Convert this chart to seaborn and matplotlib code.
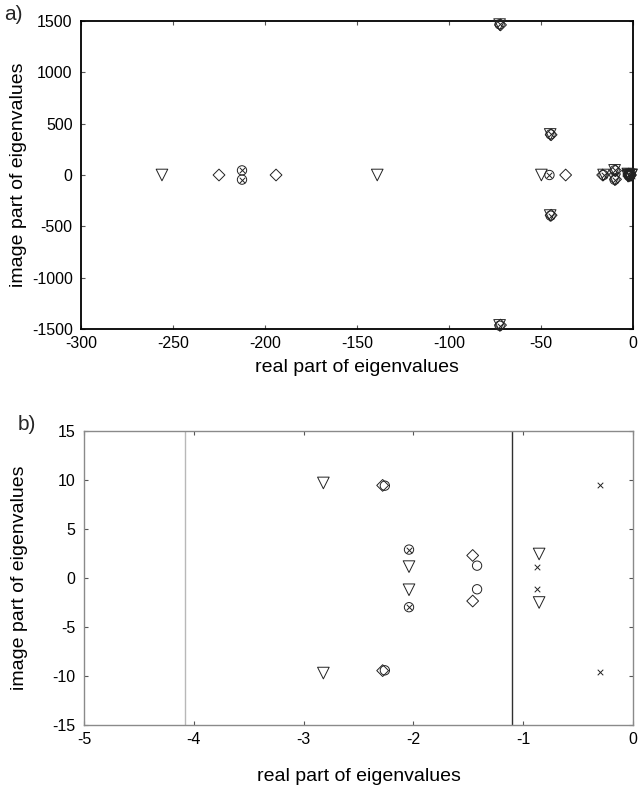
import matplotlib
matplotlib.use("Agg")
import matplotlib.pyplot as plt
import seaborn as sns
import pandas as pd

# ---- data (real, imaginary parts of eigenvalues) ----
tri_re = [-256, -139, -49.8, -72.5, -72.5, -45, -45, -16, -10, -10,
          -2.82, -2.82, -2.04, -2.04, -0.855, -0.855]
tri_im = [0, 0, 0, 1465, -1465, 395, -395, 0, 45, -45,
          9.7, -9.7, 1.16, -1.2, 2.45, -2.5]

dia_re = [-225, -194, -36.6, -72, -72, -44.5, -44.5, -16.5, -9.5, -9.5,
          -2.28, -2.28, -1.46, -1.46]
dia_im = [0, 0, 0, 1462, -1462, 392, -392, 0, 42, -42,
          9.45, -9.45, 2.3, -2.35]

cir_re = [-212.5, -212.5, -45.4, -72.5, -72.5, -44.8, -44.8, -16, -10, -10,
          -2.26, -2.26, -2.04, -2.04, -1.42, -1.42]
cir_im = [45, -45, 0, 1468, -1468, 396, -396, 0, 46, -46,
          9.42, -9.42, 2.9, -2.98, 1.26, -1.15]

crs_re = [-212.5, -212.5, -45.4, -72.5, -72.5, -44.8, -44.8, -16, -10, -10,
          -2.04, -2.04, -0.875, -0.875, -0.297, -0.297]
crs_im = [45, -45, 0, 1468, -1468, 396, -396, 0, 46, -46,
          2.9, -2.98, 1.12, -1.15, 9.5, -9.55]

vlines_b = [-4.08, -1.1]
vline_colors = ["#b8b8b8", "#303030"]

xticks_a = [-300, -250, -200, -150, -100, -50, 0]
yticks_a = [-1500, -1000, -500, 0, 500, 1000, 1500]
xticks_b = [-5, -4, -3, -2, -1, 0]
yticks_b = [-15, -10, -5, 0, 5, 10, 15]

sns.set_theme(style="white")
plt.rcParams["font.family"] = ["Liberation Sans", "DejaVu Sans"]
plt.rcParams["axes.unicode_minus"] = False

fig = plt.figure(figsize=(6.38, 7.93), dpi=100)
W, H = 638, 793
ax_a = fig.add_axes([81 / W, (H - 329) / H, 552 / W, 308 / H])
ax_b = fig.add_axes([84 / W, (H - 725) / H, 549 / W, 294 / H])

series = [
    (tri_re, tri_im, "v", 70, 0.7),
    (dia_re, dia_im, "D", 36, 0.7),
    (cir_re, cir_im, "o", 45, 0.7),
]

for ax in (ax_a, ax_b):
    for re, im, mk, s, lw in series:
        df = pd.DataFrame({"re": re, "im": im})
        sns.scatterplot(data=df, x="re", y="im", marker=mk, s=s, ax=ax,
                        facecolors="none", edgecolor="#222222", linewidth=lw,
                        legend=False, zorder=3, clip_on=False)
    dfx = pd.DataFrame({"re": crs_re, "im": crs_im})
    sns.scatterplot(data=dfx, x="re", y="im", marker="x", s=16, ax=ax,
                    color="#222222", linewidth=0.7, legend=False, zorder=3,
                    clip_on=False)

for xv, c in zip(vlines_b, vline_colors):
    ax_b.axvline(xv, color=c, lw=1.0, zorder=1)

ax_a.set_xlim(-300, 0)
ax_a.set_ylim(-1500, 1500)
ax_a.set_xticks(xticks_a)
ax_a.set_yticks(yticks_a)
ax_b.set_xlim(-5, 0)
ax_b.set_ylim(-15, 15)
ax_b.set_xticks(xticks_b)
ax_b.set_yticks(yticks_b)

for ax, sc, slw in ((ax_a, "black", 1.3), (ax_b, "#8a8a8a", 1.0)):
    for sp in ax.spines.values():
        sp.set_color(sc)
        sp.set_linewidth(slw)
        sp.set_visible(True)
    ax.tick_params(direction="in", length=3, width=0.8, color="#555555",
                   top=True, right=True, bottom=True, left=True,
                   labelsize=11.5, labelcolor="black")
    ax.tick_params(axis="x", pad=5)
    ax.tick_params(axis="y", pad=6)
    ax.set_ylabel("image part of eigenvalues", fontsize=14, color="black")

ax_a.set_xlabel("real part of eigenvalues", fontsize=14, color="black", labelpad=6)
ax_b.set_xlabel("real part of eigenvalues", fontsize=14, color="black", labelpad=15)
ax_a.yaxis.set_label_coords(-0.098, 0.5)
ax_b.yaxis.set_label_coords(-0.102, 0.5)

fig.text(4 / W, 1 - 14 / H, "a)", fontsize=15, va="center", ha="left")
fig.text(18 / W, 1 - 424 / H, "b)", fontsize=15, va="center", ha="left")

fig.savefig("out.png", dpi=100)
